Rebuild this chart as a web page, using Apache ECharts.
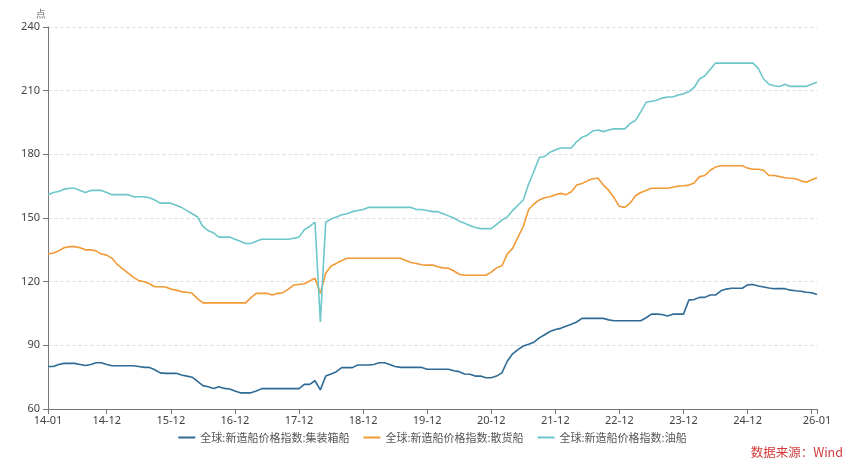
<!DOCTYPE html>
<html>
<head>
<meta charset="utf-8">
<script src="https://cdn.jsdelivr.net/npm/echarts@6/dist/echarts.min.js"></script>
<style>
html,body{margin:0;padding:0;background:#fff;}
#c{width:865px;height:468px;}
</style>
</head>
<body>
<div id="c"></div>
<script>
// monthly categories 2014-01 .. 2026-01
const startYear = 2014, endYear = 2026;
const categories = [];
for (let y = startYear; y <= endYear; y++) {
  for (let m = 1; m <= 12; m++) {
    if (y === endYear && m > 1) break;
    categories.push(String(y).slice(2) + '-' + (m < 10 ? '0' + m : m));
  }
}
const seriesNames = ['全球:新造船价格指数:集装箱船', '全球:新造船价格指数:散货船', '全球:新造船价格指数:油船'];
const yTicks = [60, 90, 120, 150, 180, 210, 240];

const container = [80,80,81,81.5,81.5,81.5,81,80.5,81,81.8,81.8,81,80.4,80.4,80.4,80.4,80.4,80,79.6,79.6,
78.5,77,76.8,76.8,76.8,76,75.5,75,73,71,70.5,69.7,70.5,69.7,69.4,68.5,67.6,67.6,67.6,68.5,
69.6,69.6,69.6,69.6,69.6,69.6,69.6,69.6,71.6,71.6,73.3,69,75.5,76.5,77.6,79.5,79.5,79.5,80.7,80.7,
80.7,81,81.8,81.8,81,80,79.6,79.6,79.6,79.6,79.6,78.7,78.7,78.7,78.7,78.7,78,77.6,76.5,76.4,
75.5,75.5,74.7,74.7,75.5,77,82.5,86,88,89.7,90.5,91.5,93.5,95,96.5,97.5,98,99,99.9,101,
102.7,102.7,102.7,102.7,102.7,102,101.6,101.6,101.6,101.6,101.6,101.6,103,104.7,104.7,104.5,103.8,104.7,104.7,104.7,
111.3,111.6,112.6,112.6,113.7,113.7,115.7,116.5,116.9,116.9,116.9,118.5,118.7,118,117.5,117,116.7,116.7,116.7,116,
115.7,115.5,115,114.8,114];

const bulk = [133,133.5,134.5,136,136.5,136.5,136,135,135,134.5,133,132.5,131,128,126,124,122,120.5,120,119,
117.6,117.6,117.5,116.5,116,115.3,115,114.5,112,110,110,110,110,110,110,110,110,110,112.5,114.5,
114.5,114.5,113.7,114.5,114.8,116.5,118.4,118.7,119,120.3,121.6,114.5,124,127.4,128.6,130,131,131,131,131,
131,131,131,131,131,131,131,130,129,128.6,128,127.8,127.8,127,126.5,126.3,125,123.5,123,123,
123,123,123,124.5,126.5,127.5,133,135.7,141,146,154,156.6,158.5,159.5,160,161,161.6,161,162.4,165.5,
166.3,167.5,168.5,168.7,165.5,163,159.5,155.5,155,157,160.5,162,163,164,164,164,164,164.5,165,165.2,
165.5,166.5,169.5,170,172.5,174,174.6,174.6,174.6,174.6,174.6,173.5,173,173,172.5,170,170,169.5,169,168.7,
168.5,167.5,166.8,168,169];

const tanker = [161,162,162.5,163.5,164,164,163,162,163,163,163,162,161,161,161,161,160,160,160,159.5,
158.5,157,157,157,156,155,153.5,152,150.5,146,144,143,141,141,141,140,139,138,138,139,
140,140,140,140,140,140,140.5,141,144.5,146,148,101,148,149.5,150.5,151.5,152,153,153.5,154,
155,155,155,155,155,155,155,155,155,154,154,153.5,153,153,152,151,150,148.5,147.5,146.5,
145.5,145,145,145,147,149,150.5,153.5,156,158.5,166,172,178.5,179,181,182,183,183,183,186,
188,189,191,191.5,190.7,191.5,192,192,192,194.5,196,200,204.5,205,205.5,206.5,207,207,208,208.5,
209.5,211.5,215.5,217,220,223,223,223,223,223,223,223,223,220.5,215.5,213,212.3,212,213,212,
212,212,212,213,214];

const colors = ['#2f6b95', '#f29a35', '#6dc6ca'];
const lastIdx = categories.length - 1;
const showLabel = (i, v) => i === 0 || i === lastIdx || (v.slice(3) === '12' && i !== lastIdx - 1);
const showTick = (i, v) => i === 0 || i === lastIdx || v.slice(3) === '12';

const chart = echarts.init(document.getElementById('c'), null, {renderer: 'canvas'});
chart.setOption({
  animation: false,
  color: colors,
  grid: {left: 48, right: 48, top: 27, bottom: 59, containLabel: false},
  legend: {
    bottom: 20,
    left: 'center',
    icon: 'rect',
    itemWidth: 17,
    itemHeight: 2,
    itemGap: 14,
    textStyle: {color: '#555', fontSize: 11, fontFamily: 'Noto Sans CJK SC'},
    data: seriesNames
  },
  xAxis: {
    type: 'category',
    data: categories,
    boundaryGap: false,
    axisLine: {lineStyle: {color: '#777', width: 1}},
    axisTick: {show: true, interval: showTick, length: 5, lineStyle: {color: '#777'}},
    axisLabel: {interval: showLabel, color: '#444', fontSize: 11, margin: 6, fontFamily: 'Noto Sans'},
    splitLine: {show: false}
  },
  yAxis: {
    type: 'value',
    min: yTicks[0],
    max: yTicks[yTicks.length - 1],
    interval: 30,
    name: '点',
    nameLocation: 'end',
    nameGap: 8,
    nameTextStyle: {color: '#666', fontSize: 10, align: 'center', padding: [0, 0, 0, -14]},
    axisLine: {show: true, lineStyle: {color: '#777', width: 1}},
    axisTick: {show: true, length: 5, lineStyle: {color: '#777'}},
    axisLabel: {color: '#444', fontSize: 11, margin: 8, fontFamily: 'Noto Sans'},
    splitLine: {show: true, lineStyle: {type: 'dashed', color: '#e0e0e0', width: 1}}
  },
  series: [
    {name: seriesNames[0], type: 'line', data: container, showSymbol: false, symbol: 'none', lineStyle: {width: 1.6}},
    {name: seriesNames[1], type: 'line', data: bulk, showSymbol: false, symbol: 'none', lineStyle: {width: 1.6}},
    {name: seriesNames[2], type: 'line', data: tanker, showSymbol: false, symbol: 'none', lineStyle: {width: 1.6}}
  ],
  graphic: [{
    type: 'text',
    right: 22,
    top: 446,
    style: {text: '数据来源：Wind', fill: '#d23b3b', fontSize: 12.5, fontFamily: 'Noto Sans CJK SC'}
  }]
});
</script>
</body>
</html>
